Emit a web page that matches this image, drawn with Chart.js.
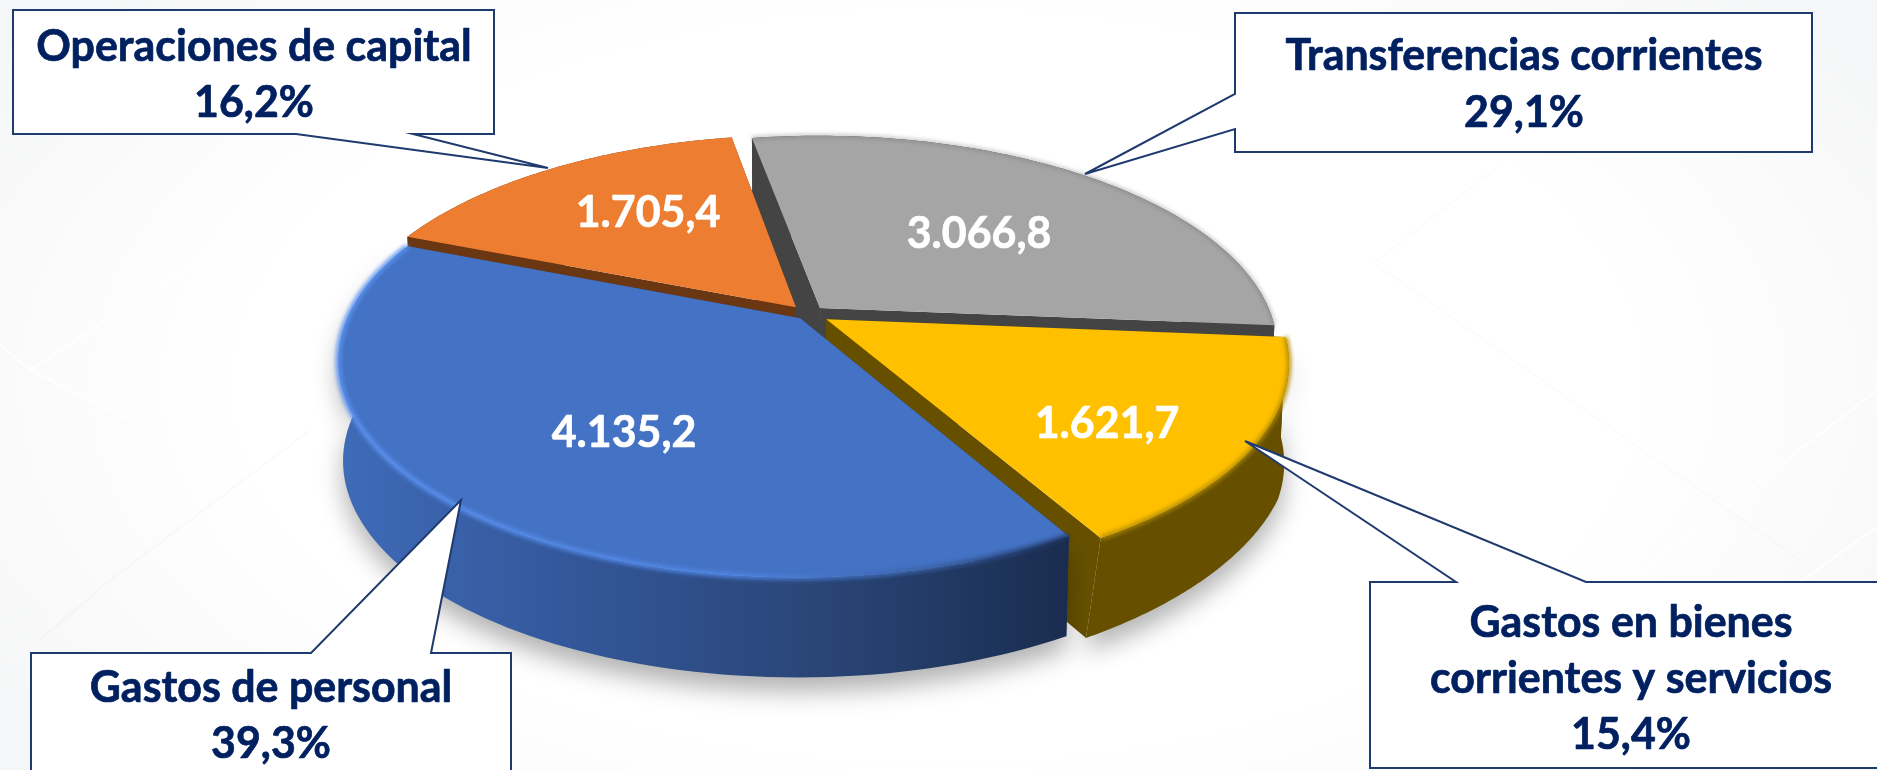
<!DOCTYPE html>
<html lang="es"><head><meta charset="utf-8">
<script src="https://cdn.jsdelivr.net/npm/chart.js@4"></script>
<style>
html,body{margin:0;padding:0;width:1877px;height:770px;overflow:hidden;background:#fff}
#w{position:absolute;left:0;top:0;width:1877px;height:770px;
background:radial-gradient(ellipse 60% 78% at 50% 50%,#fff 62%,#f5f6f7 100%)}
</style></head><body><div id="w"><canvas id="c" width="1877" height="770"></canvas></div>
<script>
const categories=['Gastos de personal','Operaciones de capital','Transferencias corrientes','Gastos en bienes corrientes y servicios'];
const values=[4135.2,1705.4,3066.8,1621.7];
const percentLabels=['39,3%','16,2%','29,1%','15,4%'];
const valueLabels=['4.135,2','1.705,4','3.066,8','1.621,7'];
const sliceColors=['#4472C4','#ED7D31','#A5A5A5','#FFC000'];
const wallColors=['#2F5496','#6B3713','#444444','#665000'];

const view={cx:808,cy:314,a:451,b:207.5,k:0.1926,h:100,shrink:0.99};
const labelSpots=[[624,447],[648,227],[979,248],[1107,438]];
const navy='#002060',edge='#1F3A6E',FONT='Lato, Carlito, sans-serif';
const callouts=[
 {i:1,box:[13,10,494,134],ptr:[[413,134],[548,168],[296,134]],lines:[['Operaciones de capital',254,61],[percentLabels[1],254,117]]},
 {i:2,box:[1235,13,1812,152],ptr:[[1235,129],[1085,174],[1235,94]],lines:[['Transferencias corrientes',1524,70],[percentLabels[2],1524,127]]},
 {i:0,box:[31,653,511,790],ptr:[[311,653],[461,500],[431,653]],lines:[['Gastos de personal',271,702],[percentLabels[0],271,758]]},
 {i:3,box:[1370,582,1900,768],ptr:[[1456,582],[1245,441],[1586,582]],lines:[['Gastos en bienes',1631,637],['corrientes y servicios',1631,693],[percentLabels[3],1631,749]]}
];
const backdropLines=[
 ['rgba(255,255,255,.9)',[[1877,390],[1631,580]]],
 ['rgba(255,255,255,.9)',[[1877,527],[1800,582]]],
 ['rgba(255,255,255,.9)',[[0,345],[30,370],[130,420]]],
 ['rgba(255,255,255,.9)',[[30,370],[130,305],[250,230]]],
 ['rgba(0,0,0,.018)',[[40,640],[110,580],[310,430]]],
 ['rgba(0,0,0,.016)',[[1374,263],[1800,560]]],
 ['rgba(0,0,0,.016)',[[1374,263],[1500,165]]]
];

function sliceGeometry(el){
  const mid=(el.startAngle+el.endAngle)/2, off=el.options.offset||0;
  const ox=el.x+Math.cos(mid)*off, oy=el.y+Math.sin(mid)*off;
  const P=(wx,wy)=>{
    const X=(wx-el.x)/el.outerRadius, Y=-(wy-el.y)/el.outerRadius, d=1+view.k*Y;
    return [view.cx+view.a*X/d, view.cy-view.b*Y/d];
  };
  const arc=[];const n=90;
  for(let j=0;j<=n;j++){
    const t=el.startAngle+(el.endAngle-el.startAngle)*j/n;
    arc.push(P(ox+el.outerRadius*Math.cos(t),oy+el.outerRadius*Math.sin(t)));
  }
  return {apex:P(ox,oy),arc};
}
// the yellow slice's lower rim draws in toward the front, as the reference's tip does
const dropFor=i=>p=>{
  let s=view.shrink;
  if(i===3) s-=0.04*Math.max(0,(p[1]-400)/137);
  return [view.cx+(p[0]-view.cx)*s,p[1]+view.h];
};
function trace(ctx,pts,close){ctx.beginPath();pts.forEach((p,j)=>j?ctx.lineTo(p[0],p[1]):ctx.moveTo(p[0],p[1]));if(close)ctx.closePath();}

const pie3d={
 id:'pie3d',
 beforeDraw(chart){
  const ctx=chart.ctx;ctx.save();ctx.lineWidth=2;
  backdropLines.forEach(l=>{ctx.strokeStyle=l[0];trace(ctx,l[1],false);ctx.stroke();});
  ctx.restore();
 },
 beforeDatasetDraw(chart,args){
  const ctx=chart.ctx,els=chart.getDatasetMeta(0).data;
  [2,1,3,0].forEach(i=>{
    const g=sliceGeometry(els[i]),drop=dropFor(i);
    const first=g.arc[0],last=g.arc[g.arc.length-1];
    let wall=wallColors[i];
    if(i===0){
      const lg=ctx.createLinearGradient(337,0,1065,0);
      lg.addColorStop(0,'#3F6BB8');lg.addColorStop(.3,'#34589C');lg.addColorStop(.65,'#2A4678');lg.addColorStop(1,'#1A2D50');
      wall=lg;
    }
    ctx.save();
    ctx.fillStyle=wall;
    if(i===0||i===3){ctx.shadowColor='rgba(0,0,0,.30)';ctx.shadowBlur=24;ctx.shadowOffsetY=14;}
    const outer=g.arc.concat(g.arc.slice().reverse().map(drop));
    trace(ctx,outer,true);ctx.fill();
    ctx.shadowColor='transparent';
    trace(ctx,[g.apex,first,drop(first),drop(g.apex)],true);ctx.fill();
    trace(ctx,[g.apex,last,drop(last),drop(g.apex)],true);ctx.fill();
    ctx.restore();
    ctx.fillStyle=sliceColors[i];
    trace(ctx,[g.apex].concat(g.arc),true);ctx.fill();
    ctx.save();
    trace(ctx,g.arc,false);
    ctx.lineWidth=5;ctx.filter='blur(2px)';
    if(i===0){
      const lg=ctx.createLinearGradient(337,0,1065,0);
      lg.addColorStop(0,'#5A92F0');lg.addColorStop(.55,'#4F86E4');lg.addColorStop(.8,'#3A62A8');lg.addColorStop(1,'#1F3560');
      ctx.strokeStyle=lg;
    } else if(i===3){ctx.strokeStyle='#B08A00';ctx.lineWidth=4;}
    else if(i===2){ctx.strokeStyle='rgba(110,110,110,.7)';ctx.lineWidth=2;}
    else {ctx.strokeStyle='rgba(0,0,0,0)';}
    ctx.stroke();
    ctx.restore();
  });
  return false;
 },
 afterDatasetsDraw(chart){
  const ctx=chart.ctx;
  ctx.save();ctx.textAlign='center';ctx.textBaseline='alphabetic';
  ctx.font='bold 44px '+FONT;ctx.lineJoin='round';ctx.lineWidth=0.7;
  const squeeze=0.975;
  const put=(t,x,y)=>{ctx.save();ctx.translate(x,y);ctx.scale(squeeze,1);ctx.strokeStyle=ctx.fillStyle;ctx.strokeText(t,0,0);ctx.fillText(t,0,0);ctx.restore();};
  ctx.fillStyle='#fff';
  valueLabels.forEach((t,i)=>put(t,labelSpots[i][0],labelSpots[i][1]));
  callouts.forEach(c=>{
    const [x0,y0,x1,y1]=c.box;
    ctx.beginPath();
    if(c.i===2){
      ctx.moveTo(x0,y0);ctx.lineTo(x1,y0);ctx.lineTo(x1,y1);ctx.lineTo(x0,y1);
      ctx.lineTo(...c.ptr[0]);ctx.lineTo(...c.ptr[1]);ctx.lineTo(...c.ptr[2]);
    } else if(y0>300){
      ctx.moveTo(x0,y0);ctx.lineTo(...c.ptr[0]);ctx.lineTo(...c.ptr[1]);ctx.lineTo(...c.ptr[2]);
      ctx.lineTo(x1,y0);ctx.lineTo(x1,y1);ctx.lineTo(x0,y1);
    } else {
      ctx.moveTo(x0,y0);ctx.lineTo(x1,y0);ctx.lineTo(x1,y1);
      ctx.lineTo(...c.ptr[0]);ctx.lineTo(...c.ptr[1]);ctx.lineTo(...c.ptr[2]);
      ctx.lineTo(x0,y1);
    }
    ctx.closePath();
    ctx.fillStyle='#fff';ctx.fill();
    ctx.save();ctx.lineWidth=2;ctx.strokeStyle=edge;ctx.lineJoin='miter';ctx.stroke();ctx.restore();
    ctx.fillStyle=navy;
    c.lines.forEach(l=>put(l[0],l[1],l[2]));
  });
  ctx.restore();
 }
};

new Chart(document.getElementById('c'),{
 type:'pie',
 data:{labels:categories,datasets:[{data:values,backgroundColor:sliceColors,borderWidth:0,offset:[10,16,15,18]}]},
 options:{responsive:false,animation:false,rotation:150.2,
  layout:{padding:0},
  plugins:{legend:{display:false},tooltip:{enabled:false}}},
 plugins:[pie3d]
});
</script></body></html>
